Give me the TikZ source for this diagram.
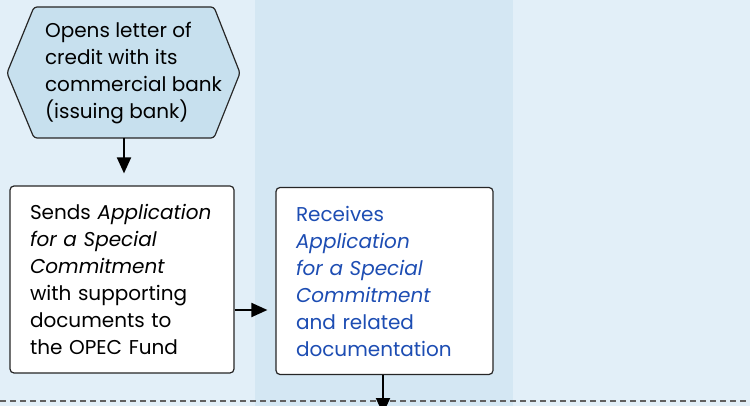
\documentclass[tikz,border=0pt]{standalone}
\usepackage{fontspec}
\setmainfont{Poppins}
\usetikzlibrary{arrows.meta,positioning}
\definecolor{lanelight}{HTML}{E2EFF8}
\definecolor{lanedark}{HTML}{D4E7F3}
\definecolor{hexfill}{HTML}{C7E0EE}
\definecolor{fundblue}{HTML}{1D4DB3}
\begin{document}
\begin{tikzpicture}[x=0.5pt,y=-0.5pt,
    font=\fontsize{10}{13.5}\selectfont,
    stepbox/.style={draw=black!85, fill=white, rounded corners=2pt, line width=0.6pt,
      align=left, inner xsep=10pt, minimum height=93.5pt},
    flow/.style={-{Triangle[length=8pt,width=7pt]}, line width=1pt}]
  % lanes
  \useasboundingbox (0,0) rectangle (750,406);
  \fill [lanelight] (0,0) rectangle (750,406);
  \fill [lanedark] (255,0) rectangle (513,406);
  \draw [gray!75!black, line width=0.75pt, dash pattern=on 3pt off 2pt] (0,401) -- (750,401);

  % hexagon
  \draw [fill=hexfill, draw=black!85, line width=0.6pt, rounded corners=1.5pt]
    (7,73) -- (34,7) -- (214,7) -- (240,73) -- (214,138) -- (34,138) -- cycle;
  \coordinate (hexbot) at (124,138);
  \node [align=left, anchor=west] (opens) at (38,73.5)
    {Opens letter of\\credit with its\\commercial bank\\(issuing bank)};

  % boxes
  \node [stepbox, text width=92pt] (sends) at (122,279.5)
    {Sends \textit{Application}\\\textit{for a Special}\\\textit{Commitment}\\with supporting\\documents to\\the OPEC Fund};
  \node [stepbox, text width=88.5pt, text=fundblue] (receives) at (384.5,281)
    {Receives\\\textit{Application}\\\textit{for a Special}\\\textit{Commitment}\\and related\\documentation};
  \coordinate (below) at (383,414);

  % arrows
  \draw [flow, shorten >=6pt] (hexbot) -- (sends.north -| hexbot);
  \draw [flow, shorten >=4pt] (sends.east |- 0,310) -- (receives.west |- 0,310);
  \draw [flow] (receives.south -| below) -- (below);
\end{tikzpicture}
\end{document}
